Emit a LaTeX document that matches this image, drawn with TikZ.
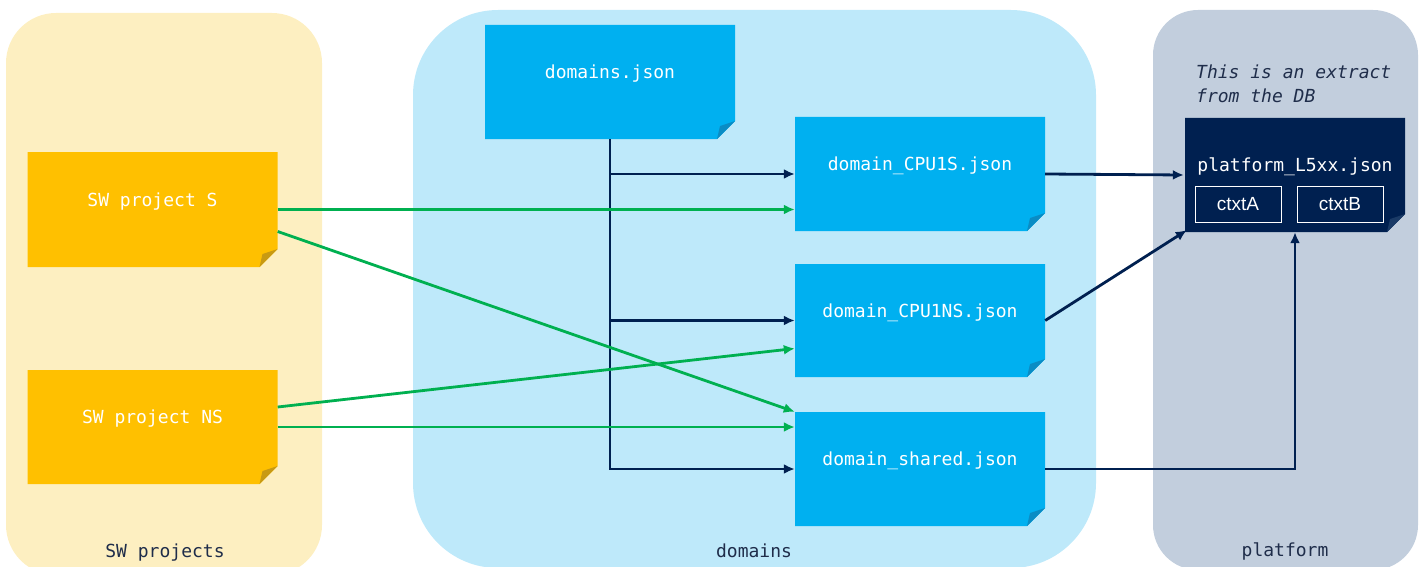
\documentclass[tikz,border=0pt]{standalone}
\usepackage{fontspec}
\usetikzlibrary{arrows.meta}
\newfontfamily\monof{DejaVu Sans Mono}
\newfontfamily\sansf{Liberation Sans}
\definecolor{ypanel}{HTML}{FDEFC1}
\definecolor{bpanel}{HTML}{BEE9FA}
\definecolor{gpanel}{HTML}{C2CEDD}
\definecolor{ynode}{HTML}{FFC000}
\definecolor{yfold}{HTML}{C89A12}
\definecolor{bnode}{HTML}{00B0F0}
\definecolor{bfold}{HTML}{0A8CC4}
\definecolor{navy}{HTML}{002050}
\definecolor{nfold}{HTML}{1A3A66}
\definecolor{grn}{HTML}{00B050}
\definecolor{lbl}{HTML}{1F2D4A}
\newcommand\foldnote[8]{% name, cx, cy, w, h, fill, fold, text
  \fill[#6] ({#2-#4/2},{#3-#5/2}) -- ({#2+#4/2},{#3-#5/2}) -- ({#2+#4/2},{#3+#5/2-18})
     -- ({#2+#4/2-18},{#3+#5/2}) -- ({#2-#4/2},{#3+#5/2}) -- cycle;
  \fill[#7] ({#2+#4/2},{#3+#5/2-18}) -- ({#2+#4/2-18},{#3+#5/2}) -- ({#2+#4/2-15},{#3+#5/2-13}) -- cycle;
  \node[shape=rectangle, inner sep=0pt, minimum width=#4pt, minimum height=#5pt] (#1) at (#2,#3) {};
  \node[txt] (#1t) at ([yshift=8pt]#1.center) {#8};
}
\tikzset{
  txt/.style={font=\monof\fontsize{18}{22}\selectfont, text=white, inner sep=0pt},
  paneltxt/.style={font=\monof\fontsize{18}{22}\selectfont, text=lbl, inner sep=0pt},
  navyline/.style={draw=navy, line width=2.8pt},
  navyarrow/.style={navyline, -{Latex[length=11pt,width=10pt]}},
  grnarrow/.style={draw=grn, line width=2.8pt, -{Latex[length=11pt,width=10pt]}},
  ctxbox/.style={draw=white, line width=0.9pt, minimum width=86pt, minimum height=36pt, inner sep=0pt,
     font=\sansf\fontsize{19}{22}\selectfont, text=white},
}
\begin{document}
\begin{tikzpicture}[x=1pt,y=-1pt]
\useasboundingbox (0,0) rectangle (1423,567);
% panels
\fill[ypanel, rounded corners=50pt] (6,13) rectangle (322,575);
\fill[bpanel, rounded corners=85pt] (413,10) rectangle (1096,568);
\fill[gpanel, rounded corners=45pt] (1153,10) rectangle (1418,570);
\node[paneltxt] (lsw) at (165,553) {SW projects};
\node[paneltxt] (ldom) at (754,551) {domains};
\node[paneltxt] (lplat) at (1285,551) {platform};
% notes
\foldnote{s}{152.5}{209.5}{250}{115}{ynode}{yfold}{SW project S}
\foldnote{ns}{152.5}{427}{250}{114}{ynode}{yfold}{SW project NS}
\foldnote{dj}{610}{82}{250}{114}{bnode}{bfold}{domains.json}
\foldnote{c1}{920}{174}{250}{114}{bnode}{bfold}{domain\_CPU1S.json}
\foldnote{c2}{920}{320.5}{250}{113}{bnode}{bfold}{domain\_CPU1NS.json}
\foldnote{sh}{920}{469}{250}{114}{bnode}{bfold}{domain\_shared.json}
\foldnote{pl}{1295}{175}{220}{114}{navy}{nfold}{platform\_L5xx.json}
\node[ctxbox] (ca) at (1238,204) {ctxtA};
\node[ctxbox] (cb) at (1340,204) {ctxtB};
\node[font=\monof\itshape\fontsize{18}{24}\selectfont, text=lbl, anchor=north west, align=left, inner sep=0pt]
  (note) at (1196,65) {This is an extract\\from the DB};
% domains tree
\draw[navyarrow] (dj.south) |- (sh.west);
\draw[navyarrow] (dj.south |- c1.west) -- (c1.west);
\draw[navyarrow] (dj.south |- c2.west) -- (c2.west);
% green
\draw[grnarrow] (s.east) -- (s.east -| c1.west);
\draw[grnarrow] ([yshift=-22pt]s.east) -- (sh.north west);
\draw[grnarrow] ([yshift=20pt]ns.east) -- ([yshift=-28pt]c2.west);
\draw[grnarrow] (ns.east) -- (ns.east -| sh.west);
% to platform
\draw[navyarrow] (c1.east) -- ([xshift=-1pt]pl.west);
\draw[navyarrow] (c2.east) -- ([xshift=2pt,yshift=2pt]pl.south west);
\draw[navyarrow] (sh.east) -| (pl.south);
\end{tikzpicture}
\end{document}
